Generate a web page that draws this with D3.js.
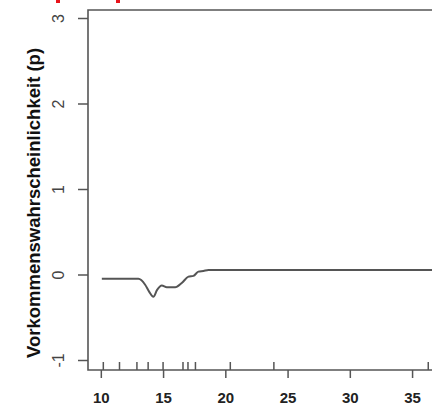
<!DOCTYPE html>
<html>
<head>
<meta charset="utf-8">
<script src="https://cdn.jsdelivr.net/npm/d3@7"></script>
<style>
  body { margin: 0; background: #fff; }
  svg { display: block; }
</style>
</head>
<body>
<div id="wrapper"></div>
<script>
// partial effect curve (x = predictor, y = effect)
const curveX = [10.08, 13.02, 13.56, 13.88, 14.22, 14.52, 14.90, 15.30, 15.97, 16.50, 17.04, 17.44, 17.84, 18.24, 18.64, 36.6];
const curveY = [-0.051, -0.051, -0.12, -0.20, -0.26, -0.18, -0.13, -0.15, -0.15, -0.10, -0.025, -0.016, 0.034, 0.042, 0.054, 0.054];
// rug marks on the x axis
const rugX = [10.2, 11.5, 12.9, 13.8, 15.0, 16.6, 17.0, 17.6, 20.4, 23.9, 36.3];
const xTicks = [10, 15, 20, 25, 30, 35];
const yTicks = [-1, 0, 1, 2, 3];
const yTitle = "Vorkommenswahrscheinlichkeit (p)";

const dimension = {
    width: 432,
    height: 408,
    margin: { top: 10, left: 88, bottom: 38, right: 0 }
};
dimension.boundedWidth = dimension.width - dimension.margin.left - dimension.margin.right;
dimension.boundedHeight = dimension.height - dimension.margin.top - dimension.margin.bottom;

const svg = d3.select("#wrapper").append("svg")
    .attr("width", dimension.width)
    .attr("height", dimension.height);

// small red fragments of the cut-off heading
svg.append("rect").attr("x", 56).attr("y", 0).attr("width", 4).attr("height", 3).attr("fill", "#e8141b");
svg.append("rect").attr("x", 116).attr("y", 0).attr("width", 4).attr("height", 3).attr("fill", "#e8141b");

const bounded = svg.append("g")
    .attr("transform", `translate(${dimension.margin.left},${dimension.margin.top})`);

const xScaler = d3.scaleLinear()
    .domain([8.97, 8.97 + dimension.boundedWidth / 12.45])
    .range([0, dimension.boundedWidth]);

const yScaler = d3.scaleLinear()
    .domain([3.0 + 8 / 85.5, 3.0 - (dimension.boundedHeight - 8) / 85.5])
    .range([0, dimension.boundedHeight]);

const axisColor = "#555";

// box (left, top, bottom)
bounded.append("path")
    .attr("d", `M${dimension.boundedWidth + 2},0H0V${dimension.boundedHeight}H${dimension.boundedWidth + 2}`)
    .attr("fill", "none")
    .attr("stroke", axisColor)
    .attr("stroke-width", 1.6);

// x axis
const x_axis = d3.axisBottom(xScaler)
    .tickValues(xTicks)
    .tickSize(8)
    .tickPadding(14)
    .tickFormat(d => String(d));

const gx = bounded.append("g")
    .attr("transform", `translate(0,${dimension.boundedHeight})`)
    .call(x_axis);
gx.select(".domain").remove();
gx.selectAll("line").attr("stroke", axisColor).attr("stroke-width", 1.5);
gx.selectAll("text")
    .attr("fill", "#222")
    .style("font-family", "Liberation Sans, Arial, sans-serif")
    .style("font-size", "15px")
    .style("font-weight", "bold");

// rug
bounded.append("g")
    .selectAll("line")
    .data(rugX)
    .join("line")
    .attr("x1", d => xScaler(d))
    .attr("x2", d => xScaler(d))
    .attr("y1", dimension.boundedHeight)
    .attr("y2", dimension.boundedHeight - 8)
    .attr("stroke", axisColor)
    .attr("stroke-width", 1.5);

// y axis
const y_axis = d3.axisLeft(yScaler)
    .tickValues(yTicks)
    .tickSize(10)
    .tickFormat(d => String(d));

const gy = bounded.append("g").call(y_axis);
gy.select(".domain").remove();
gy.selectAll("line").attr("stroke", axisColor).attr("stroke-width", 1.5);
gy.selectAll("text")
    .attr("x", 0)
    .attr("dy", 0)
    .attr("transform", "translate(-30,0) rotate(-90)")
    .attr("text-anchor", "middle")
    .attr("dominant-baseline", "central")
    .attr("fill", "#444")
    .style("font-family", "Liberation Sans, Arial, sans-serif")
    .style("font-size", "16px");

// y title
svg.append("text")
    .attr("transform", `translate(33,${yScaler(1) + dimension.margin.top + 14}) rotate(-90)`)
    .attr("text-anchor", "middle")
    .attr("dominant-baseline", "central")
    .attr("fill", "#111")
    .style("font-family", "Liberation Sans, Arial, sans-serif")
    .style("font-size", "18.5px")
    .style("font-weight", "bold")
    .text(yTitle);

// effect curve
const curve = curveX.map((x, i) => [x, curveY[i]]);
const lineGenerator = d3.line()
    .x(d => xScaler(d[0]))
    .y(d => yScaler(d[1]))
    .curve(d3.curveMonotoneX);

bounded.append("path")
    .attr("d", lineGenerator(curve))
    .attr("fill", "none")
    .attr("stroke", "#555")
    .attr("stroke-width", 2);
</script>
</body>
</html>
